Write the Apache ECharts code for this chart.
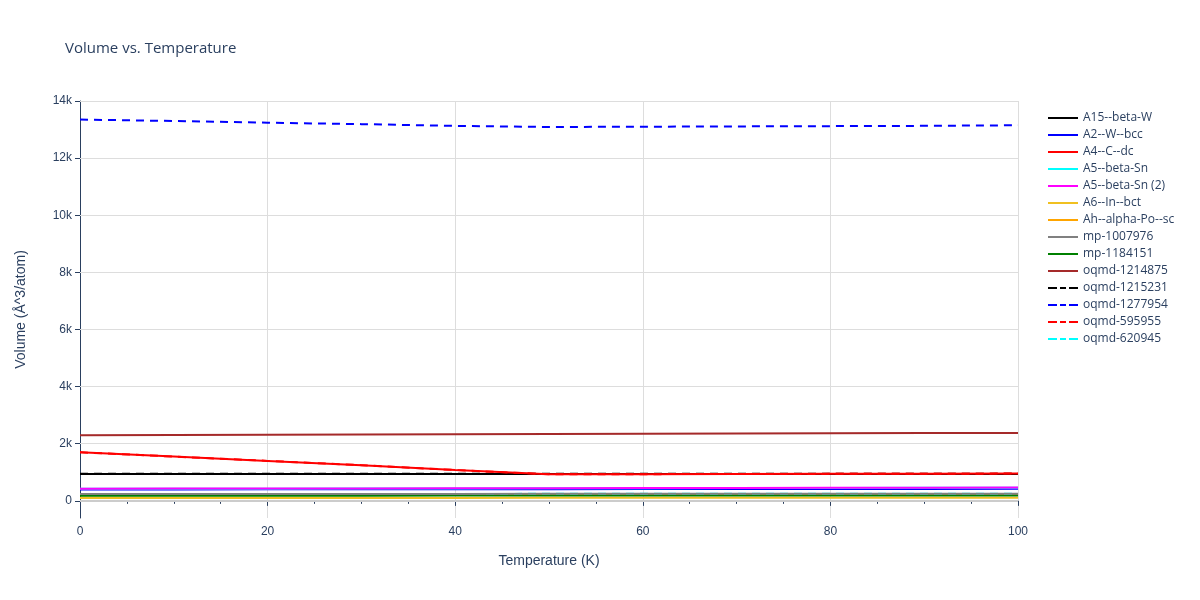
<!DOCTYPE html><html><head><meta charset="utf-8"><script src="https://cdn.jsdelivr.net/npm/echarts@6/dist/echarts.min.js"></script></head><body style="margin:0"><div id="c" style="width:1200px;height:600px"></div><script>
const temps=[0,10,20,30,40,50,60,70,80,90,100];
const yTicks=[0,2000,4000,6000,8000,10000,12000,14000];
const names=['A15--beta-W','A2--W--bcc','A4--C--dc','A5--beta-Sn','A5--beta-Sn (2)','A6--In--bct','Ah--alpha-Po--sc','mp-1007976','mp-1184151','oqmd-1214875','oqmd-1215231','oqmd-1277954','oqmd-595955','oqmd-620945'];
const colors=['#000000','#0000ff','#ff0000','#00ffff','#ff00ff','#f0c020','#ffa500','#808080','#008000','#a52a2a','#000000','#0000ff','#ff0000','#00ffff'];
const dashed=[false,false,false,false,false,false,false,false,false,false,true,true,true,true];
const vals=[
[940,940,940,940,940,940,940,940,940,940,940],
[400,402,404,406,408,410,412,414,416,418,420],
[1700,1550,1400,1250,1080,930,935,940,945,950,955],
[420,424,428,432,436,440,444,448,452,456,460],
[425,429,433,437,441,445,449,453,457,461,465],
[100,101,102,103,104,105,106,107,108,109,110],
[200,201,202,203,204,205,206,207,208,209,210],
[240,241,242,243,244,245,246,247,248,249,250],
[180,181,182,183,184,185,186,187,188,189,190],
[2300,2308,2316,2324,2332,2340,2348,2356,2364,2372,2380],
[945,945,945,945,945,945,945,945,945,945,945],
[13350,13300,13240,13190,13130,13090,13100,13110,13120,13130,13150],
[1700,1550,1400,1250,1080,930,935,940,945,950,955],
[240,241,242,243,244,245,246,247,248,249,250]];
const order=[5,6,8,13,7,1,3,4,0,10,2,12,9,11];
const series=names.map((n,i)=>({name:n,type:'line',symbol:'none',z:order.indexOf(i)+2,data:temps.map((t,j)=>[t,vals[i][j]]),lineStyle:{color:colors[i],width:2,type:dashed[i]?[8,6]:'solid'},itemStyle:{color:colors[i]}}));
series.push({type:'line',data:[],silent:true,z:1,markLine:{silent:true,symbol:'none',label:{show:false},animation:false,data:yTicks.map(v=>({yAxis:v,lineStyle:{color:v===0?'#cccccc':'#dddddd',width:v===0?2:1,type:'solid'}}))}});
const c=echarts.init(document.getElementById('c'));
const ax={color:'#2a3f5f'};
c.setOption({animation:false,title:{text:'Volume vs. Temperature',left:60,top:36,textStyle:{fontSize:15,fontWeight:'normal',color:'#2a3f5f',fontFamily:'Open Sans'}},
legend:{orient:'vertical',left:1043,top:107,itemGap:5,itemWidth:30,textStyle:{fontSize:12,color:'#2a3f5f',fontFamily:'Open Sans'},data:names.map((n,i)=>({name:n,icon:dashed[i]?'path://M0,0H9V2H0Z M12,0H18V2H12Z M21,0H30V2H21Z':'path://M0,0H30V2H0Z',itemStyle:{color:colors[i]}}))},
grid:{left:80,right:182,top:101,bottom:82},
xAxis:{type:'value',min:0,max:100,interval:20,name:'Temperature (K)',nameLocation:'middle',nameGap:36,nameTextStyle:{fontSize:14,...ax},axisLabel:{...ax,fontSize:12},minorTick:{show:true,splitNumber:4},axisLine:{lineStyle:{color:'#2a3f5f'}},axisTick:{lineStyle:{color:'#2a3f5f'}},splitLine:{lineStyle:{color:'#dddddd'}}},
yAxis:{type:'value',min:-600,max:14000,name:'Volume (Å^3/atom)',nameLocation:'middle',nameGap:52,nameTextStyle:{fontSize:14,...ax},axisLabel:{...ax,fontSize:12,customValues:yTicks,formatter:v=>v===0?'0':v/1000+'k'},axisLine:{show:true,lineStyle:{color:'#2a3f5f'}},axisTick:{show:true,customValues:yTicks,lineStyle:{color:'#2a3f5f'}},splitLine:{show:false}},
series});
</script></body></html>
